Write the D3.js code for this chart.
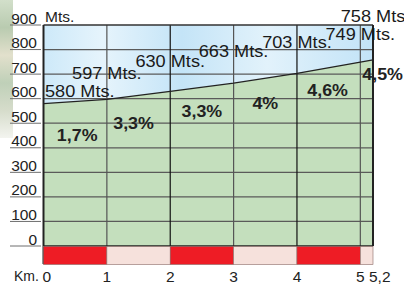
<!DOCTYPE html>
<html>
<head>
<meta charset="utf-8">
<script src="https://cdn.jsdelivr.net/npm/d3@7"></script>
<style>
  body { margin: 0; background: #fff; }
  text { font-family: "Liberation Sans", Arial, sans-serif; }
</style>
</head>
<body>
<div id="profile"></div>
<script>
var width = 404,
    height = 286;

// data
var kms = [0, 1, 2, 3, 4, 5, 5.2];
var elevations = [580, 597, 630, 663, 703, 749, 758];
var elevLabels = ["580 Mts.", "597 Mts.", "630 Mts.", "663 Mts.", "703 Mts.", "749 Mts.", "758 Mts"];
var gradients = ["1,7%", "3,3%", "3,3%", "4%", "4,6%", "4,5%"];
var yTicks = [0, 100, 200, 300, 400, 500, 600, 700, 800, 900];
var kmTicks = [0, 1, 2, 3, 4, 5, 5.2];
var kmTickLabels = ["0", "1", "2", "3", "4", "5", "5,2"];

// label nudges (layout only)
var elevDy = [-7, -20, -24, -26, -25, -22, -38];
var gradDy = [40, 34, 30, 31, 28, 19];
var gradDx = [2, -5, 0, 0, -1, 16];

var x = d3.scaleLinear().domain([0, 5.2]).range([43.5, 373]);
var y = d3.scaleLinear().domain([0, 900]).range([246, 25]);

// the source lettering is a bit wider than Arial
function stretch(sel, k) {
  sel.each(function() {
    var w = this.getComputedTextLength();
    d3.select(this)
      .attr("textLength", w * k)
      .attr("lengthAdjust", "spacingAndGlyphs");
  });
}

var svg = d3.select("#profile").append("svg")
    .attr("width", width)
    .attr("height", height);

var defs = svg.append("defs");

var sky = defs.append("linearGradient").attr("id", "sky")
    .attr("x1", 0).attr("y1", 0).attr("x2", 1).attr("y2", 0);
sky.append("stop").attr("offset", "0%").attr("stop-color", "#cde9f9");
sky.append("stop").attr("offset", "18%").attr("stop-color", "#e6f4fc");
sky.append("stop").attr("offset", "42%").attr("stop-color", "#c4e4f7");
sky.append("stop").attr("offset", "68%").attr("stop-color", "#e2f2fb");
sky.append("stop").attr("offset", "100%").attr("stop-color", "#c2e3f7");

var photo = defs.append("linearGradient").attr("id", "photo")
    .attr("x1", 0).attr("y1", 0).attr("x2", 0).attr("y2", 1);
photo.append("stop").attr("offset", "0%").attr("stop-color", "#d2dfca");
photo.append("stop").attr("offset", "20%").attr("stop-color", "#b9cbb0");
photo.append("stop").attr("offset", "40%").attr("stop-color", "#e2e0cc");
photo.append("stop").attr("offset", "60%").attr("stop-color", "#bfd0b8");
photo.append("stop").attr("offset", "80%").attr("stop-color", "#d6dccb");
photo.append("stop").attr("offset", "100%").attr("stop-color", "#f3f4ef");

// blurry photo strip on the far left
svg.append("rect")
    .attr("x", 0).attr("y", 0)
    .attr("width", 13).attr("height", 138)
    .attr("fill", "url(#photo)");

var pts = kms.map(function(k, i) { return { km: k, elev: elevations[i] }; });

// sky above the profile
svg.append("path")
    .datum(pts)
    .attr("fill", "url(#sky)")
    .attr("d", d3.area()
      .x(function(d) { return x(d.km); })
      .y0(y(900))
      .y1(function(d) { return y(d.elev); }));

// ground under the profile
svg.append("path")
    .datum(pts)
    .attr("fill", "#c4dfbd")
    .attr("d", d3.area()
      .x(function(d) { return x(d.km); })
      .y0(y(0))
      .y1(function(d) { return y(d.elev); }));

// grid
svg.append("g").selectAll("line")
    .data(yTicks.filter(function(d) { return d > 0 && d < 900; }))
    .join("line")
    .attr("x1", x(0)).attr("x2", x(5.2))
    .attr("y1", function(d) { return y(d); })
    .attr("y2", function(d) { return y(d); })
    .attr("stroke", "#5a5a5a")
    .attr("stroke-width", 1.2);

svg.append("g").selectAll("line")
    .data([1, 2, 3, 4, 5])
    .join("line")
    .attr("x1", function(d) { return x(d); })
    .attr("x2", function(d) { return x(d); })
    .attr("y1", y(900)).attr("y2", y(0))
    .attr("stroke", function(d) { return d % 2 === 0 ? "#111" : "#555"; })
    .attr("stroke-width", 1.2);

// profile line
svg.append("path")
    .datum(pts)
    .attr("fill", "none")
    .attr("stroke", "#222")
    .attr("stroke-width", 1.3)
    .attr("d", d3.line()
      .x(function(d) { return x(d.km); })
      .y(function(d) { return y(d.elev); }));

// frame
svg.append("line")
    .attr("x1", x(0)).attr("x2", x(5.2))
    .attr("y1", y(900)).attr("y2", y(900))
    .attr("stroke", "#333").attr("stroke-width", 1.5);
svg.append("line")
    .attr("x1", x(0)).attr("x2", x(0))
    .attr("y1", y(900)).attr("y2", y(0) + 18)
    .attr("stroke", "#222").attr("stroke-width", 2);
svg.append("line")
    .attr("x1", x(5.2)).attr("x2", x(5.2))
    .attr("y1", y(900)).attr("y2", y(0))
    .attr("stroke", "#222").attr("stroke-width", 2);
svg.append("line")
    .attr("x1", x(0)).attr("x2", x(5.2))
    .attr("y1", y(0)).attr("y2", y(0))
    .attr("stroke", "#222").attr("stroke-width", 1.5);

// km band
var segs = d3.pairs(kmTicks);
svg.append("g").selectAll("rect")
    .data(segs)
    .join("rect")
    .attr("x", function(d) { return x(d[0]); })
    .attr("y", y(0) + 0.5)
    .attr("width", function(d) { return x(d[1]) - x(d[0]); })
    .attr("height", 18)
    .attr("fill", function(d, i) { return i % 2 === 0 ? "#ee1c25" : "#f6e1dc"; })
    .attr("stroke", "#8a6a66")
    .attr("stroke-width", 0.6);

// y axis: numbers sitting on short rules
var yAxis = svg.append("g");
yAxis.selectAll("line")
    .data(yTicks)
    .join("line")
    .attr("x1", 10).attr("x2", 41)
    .attr("y1", function(d) { return y(d); })
    .attr("y2", function(d) { return y(d); })
    .attr("stroke", "#6e6e6e")
    .attr("stroke-width", 1);
yAxis.selectAll("text")
    .data(yTicks)
    .join("text")
    .attr("x", 37)
    .attr("y", function(d) { return y(d) - 1.5; })
    .attr("text-anchor", "end")
    .attr("font-size", 15.5)
    .attr("fill", "#222")
    .text(function(d) { return d; });

svg.append("text")
    .attr("x", 45).attr("y", 22)
    .attr("font-size", 15.5)
    .attr("fill", "#222")
    .text("Mts.");

// km labels
svg.append("text")
    .attr("x", 14).attr("y", 281)
    .attr("font-size", 14)
    .attr("fill", "#222")
    .text("Km.");
svg.append("g").selectAll("text")
    .data(kmTicks)
    .join("text")
    .attr("x", function(d, i) {
      if (i === 0) return x(d) - 1;
      if (i === kmTicks.length - 1) return x(d) - 4;
      return x(d);
    })
    .attr("y", 282)
    .attr("text-anchor", function(d, i) {
      return (i === 0 || i === kmTicks.length - 1) ? "start" : "middle";
    })
    .attr("font-size", 15.5)
    .attr("fill", "#222")
    .text(function(d, i) { return kmTickLabels[i]; });

// elevation labels
svg.append("g").selectAll("text")
    .data(pts)
    .join("text")
    .attr("x", function(d, i) { return i === 0 ? x(d.km) + 1.5 : x(d.km); })
    .attr("y", function(d, i) { return y(d.elev) + elevDy[i]; })
    .attr("text-anchor", function(d, i) { return i === 0 ? "start" : "middle"; })
    .attr("font-size", 16.5)
    .attr("fill", "#1a1a1a")
    .text(function(d, i) { return elevLabels[i]; })
    .call(stretch, 1.1);

// gradient labels
svg.append("g").selectAll("text")
    .data(segs)
    .join("text")
    .attr("x", function(d, i) { return x((d[0] + d[1]) / 2) + gradDx[i]; })
    .attr("y", function(d, i) {
      var mid = (elevations[i] + elevations[i + 1]) / 2;
      return y(mid) + gradDy[i];
    })
    .attr("text-anchor", "middle")
    .attr("font-size", 16.5)
    .attr("font-weight", "bold")
    .attr("fill", "#222")
    .text(function(d, i) { return gradients[i]; })
    .call(stretch, 1.08);
</script>
</body>
</html>
